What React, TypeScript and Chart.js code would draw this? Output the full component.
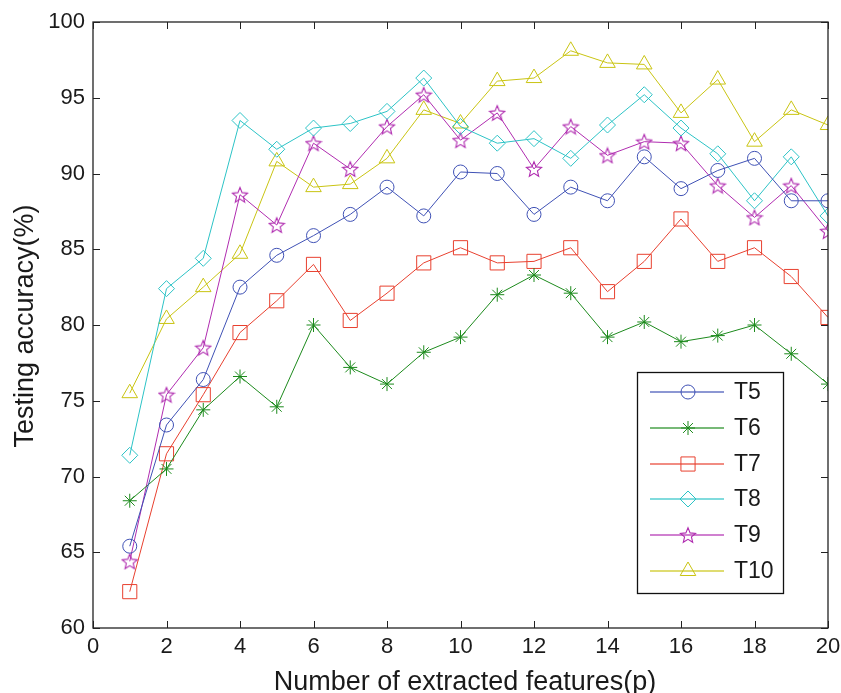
import React, { useEffect, useRef } from "react";
import { Chart, registerables } from "chart.js";
import { drawPoint } from "chart.js/helpers";

Chart.register(...registerables);

const features = [1, 2, 3, 4, 5, 6, 7, 8, 9, 10, 11, 12, 13, 14, 15, 16, 17, 18, 19, 20];
const t5 = [65.4, 73.4, 76.4, 82.5, 84.6, 85.9, 87.3, 89.1, 87.2, 90.1, 90.0, 87.3, 89.1, 88.2, 91.1, 89.0, 90.2, 91.0, 88.2, 88.2];
const t6 = [68.4, 70.5, 74.4, 76.6, 74.6, 80.0, 77.2, 76.1, 78.2, 79.2, 82.0, 83.3, 82.1, 79.2, 80.2, 78.9, 79.3, 80.0, 78.1, 76.1];
const t7 = [62.4, 71.5, 75.4, 79.5, 81.6, 84.0, 80.3, 82.1, 84.1, 85.1, 84.1, 84.2, 85.1, 82.2, 84.2, 87.0, 84.2, 85.1, 83.2, 80.5];
const t8 = [71.4, 82.4, 84.4, 93.5, 91.6, 93.0, 93.3, 94.1, 96.3, 93.1, 92.0, 92.3, 91.0, 93.2, 95.2, 93.0, 91.3, 88.2, 91.1, 87.2];
const t9 = [64.4, 75.4, 78.5, 88.6, 86.6, 92.0, 90.3, 93.1, 95.2, 92.2, 94.0, 90.3, 93.1, 91.2, 92.1, 92.0, 89.2, 87.1, 89.2, 86.2];
const t10 = [75.5, 80.4, 82.5, 84.7, 90.8, 89.1, 89.3, 91.0, 94.2, 93.3, 96.1, 96.3, 98.1, 97.3, 97.2, 94.0, 96.2, 92.1, 94.2, 93.2];

const seriesNames = ["T5", "T6", "T7", "T8", "T9", "T10"];
const seriesColors = ["#3f51b5", "#1c8a1c", "#e8402f", "#2cc3c6", "#b02cb0", "#c9c412"];
const xTicks = [0, 2, 4, 6, 8, 10, 12, 14, 16, 18, 20];
const yTicks = [60, 65, 70, 75, 80, 85, 90, 95, 100];
const xTitle = "Number of extracted features(p)";
const yTitle = "Testing accuracy(%)";

const FONT = "'Liberation Sans', Arial, Helvetica, sans-serif";

function makeStar(color: string, size: number) {
  const c = document.createElement("canvas");
  c.width = size;
  c.height = size;
  const ctx = c.getContext("2d")!;
  const cx = size / 2;
  const cy = size / 2 + 0.8;
  const R = size / 2 - 1;
  const r = R * 0.45;
  ctx.beginPath();
  for (let i = 0; i < 10; i++) {
    const ang = -Math.PI / 2 + (i * Math.PI) / 5;
    const rad = i % 2 === 0 ? R : r;
    const px = cx + rad * Math.cos(ang);
    const py = cy + rad * Math.sin(ang);
    if (i === 0) ctx.moveTo(px, py);
    else ctx.lineTo(px, py);
  }
  ctx.closePath();
  ctx.strokeStyle = color;
  ctx.lineWidth = 1.1;
  ctx.stroke();
  return c;
}

export default function App() {
  const ref = useRef<HTMLCanvasElement>(null);

  useEffect(() => {
    const canvas = ref.current!;
    const star = makeStar(seriesColors[4], 18);
    const values = [t5, t6, t7, t8, t9, t10];
    const styles: any[] = ["circle", "star", "rect", "rectRot", star, "triangle"];
    const radii = [7, 7, 10, 8, 9, 9];

    const datasets = values.map((v, i) => ({
      label: seriesNames[i],
      data: features.map((f, j) => ({ x: f, y: v[j] })),
      borderColor: seriesColors[i],
      backgroundColor: "rgba(0,0,0,0)",
      borderWidth: 1,
      pointStyle: styles[i],
      pointRadius: radii[i],
      pointBorderColor: seriesColors[i],
      pointBackgroundColor: "rgba(0,0,0,0)",
      pointBorderWidth: 1,
      tension: 0,
    }));

    const framePlugin = {
      id: "frame",
      afterDraw(chart: any) {
        const { ctx, chartArea: a, scales } = chart;
        const xs = scales.x;
        const ys = scales.y;
        ctx.save();
        ctx.strokeStyle = "#222";
        ctx.lineWidth = 1.3;
        ctx.strokeRect(a.left, a.top, a.right - a.left, a.bottom - a.top);
        ctx.lineWidth = 1;
        const tl = 7;
        ctx.beginPath();
        xTicks.forEach((t) => {
          const px = Math.round(xs.getPixelForValue(t)) + 0.5;
          ctx.moveTo(px, a.bottom);
          ctx.lineTo(px, a.bottom - tl);
          ctx.moveTo(px, a.top);
          ctx.lineTo(px, a.top + tl);
        });
        yTicks.forEach((t) => {
          const py = Math.round(ys.getPixelForValue(t)) + 0.5;
          ctx.moveTo(a.left, py);
          ctx.lineTo(a.left + tl, py);
          ctx.moveTo(a.right, py);
          ctx.lineTo(a.right - tl, py);
        });
        ctx.stroke();

        // axis titles
        ctx.fillStyle = "#1a1a1a";
        ctx.font = `27px ${FONT}`;
        ctx.textAlign = "center";
        ctx.textBaseline = "alphabetic";
        ctx.fillText(xTitle, 465, 690);
        ctx.save();
        ctx.translate(33, (a.top + a.bottom) / 2 + 1);
        ctx.rotate(-Math.PI / 2);
        ctx.fillText(yTitle, 0, 0);
        ctx.restore();

        // legend
        const lx = 637, ly = 372, lw = 146, lh = 221;
        ctx.fillStyle = "#fff";
        ctx.fillRect(lx, ly, lw, lh);
        ctx.strokeStyle = "#111";
        ctx.lineWidth = 1.3;
        ctx.strokeRect(lx + 0.5, ly + 0.5, lw, lh);
        const rows = [392, 428, 464, 499, 535, 571];
        seriesNames.forEach((name, i) => {
          const y = rows[i];
          ctx.save();
          ctx.globalAlpha = 0.6;
          ctx.strokeStyle = seriesColors[i];
          ctx.lineWidth = 2;
          ctx.beginPath();
          ctx.moveTo(650, y);
          ctx.lineTo(724, y);
          ctx.stroke();
          ctx.restore();
          ctx.save();
          ctx.strokeStyle = seriesColors[i];
          ctx.fillStyle = "rgba(0,0,0,0)";
          ctx.lineWidth = 1;
          drawPoint(ctx, { pointStyle: styles[i], radius: radii[i], rotation: 0, borderWidth: 1 } as any, 688, y);
          ctx.restore();
          ctx.fillStyle = "#1a1a1a";
          ctx.font = `23px ${FONT}`;
          ctx.textAlign = "left";
          ctx.textBaseline = "middle";
          ctx.fillText(name, 734, y + 1);
        });
        ctx.restore();
      },
    };

    const chart = new Chart(canvas, {
      type: "line",
      data: { datasets },
      options: {
        responsive: false,
        animation: false,
        layout: { padding: { left: 0, top: 22, right: 13, bottom: 0 } },
        plugins: { legend: { display: false }, tooltip: { enabled: false } },
        scales: {
          x: {
            type: "linear",
            min: 0,
            max: 20,
            afterFit: (s: any) => { s.height = 65; s.paddingLeft = 0; s.paddingRight = 0; },
            afterBuildTicks: (s: any) => { s.ticks = xTicks.map((v) => ({ value: v })); },
            grid: { display: false, drawTicks: false },
            border: { display: false },
            ticks: { color: "#1a1a1a", font: { size: 22, family: FONT }, padding: 6, maxRotation: 0 },
          },
          y: {
            type: "linear",
            min: 60,
            max: 100,
            afterFit: (s: any) => { s.width = 93; s.paddingTop = 0; s.paddingBottom = 0; },
            afterBuildTicks: (s: any) => { s.ticks = yTicks.map((v) => ({ value: v })); },
            grid: { display: false, drawTicks: false },
            border: { display: false },
            ticks: { color: "#1a1a1a", font: { size: 22, family: FONT }, padding: 8 },
          },
        },
      },
      plugins: [framePlugin],
    } as any);

    return () => chart.destroy();
  }, []);

  return (
    <div style={{ position: "absolute", left: 0, top: 0, width: 841, height: 693, background: "#fff" }}>
      <canvas ref={ref} width={841} height={693} style={{ display: "block" }} />
    </div>
  );
}
